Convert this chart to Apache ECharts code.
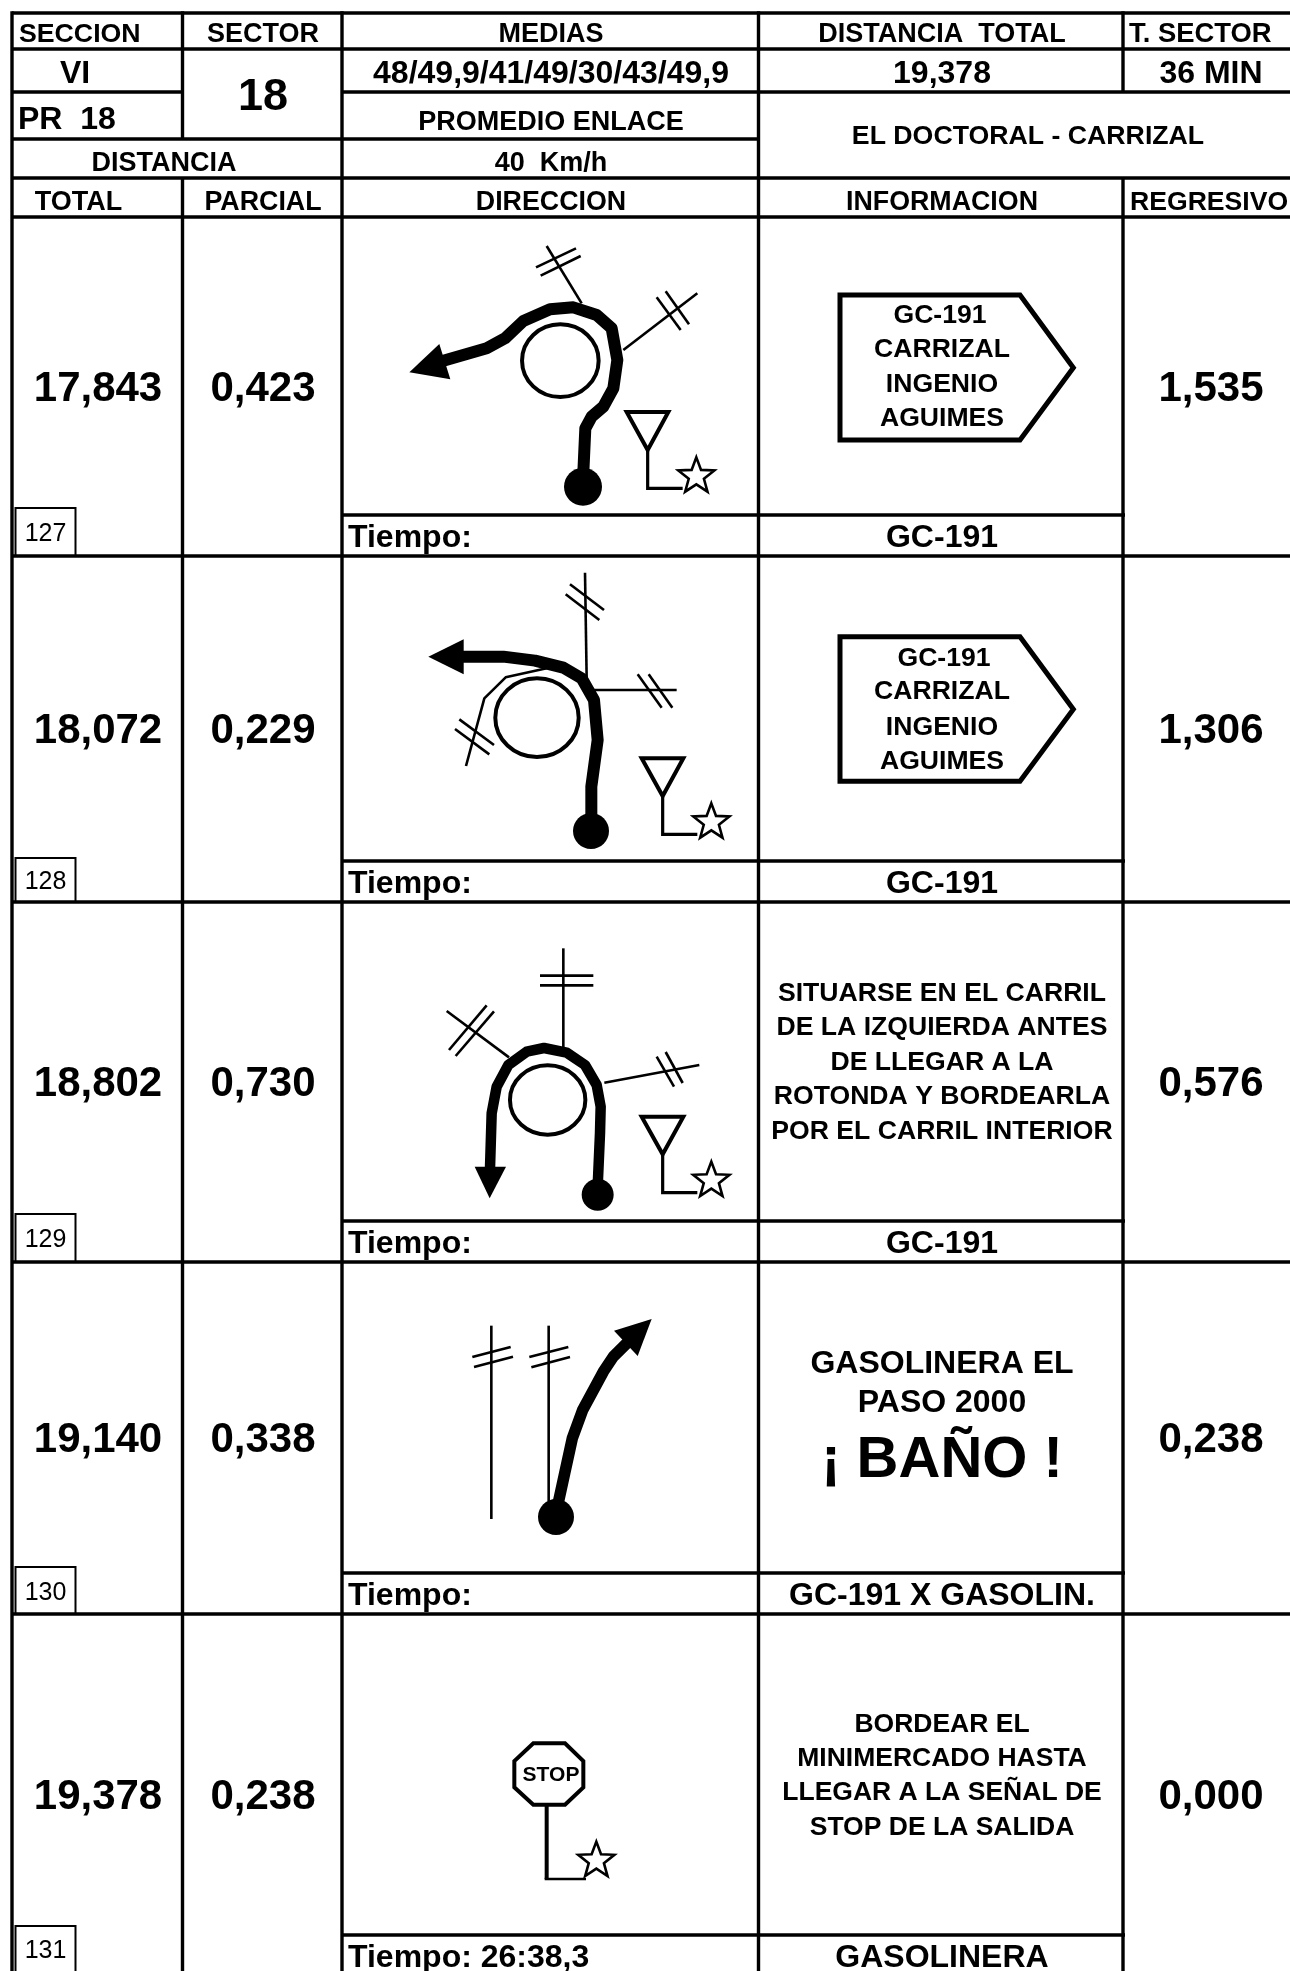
<!DOCTYPE html>
<html>
<head>
<meta charset="utf-8">
<title>PR 18</title>
<style>
  html, body { margin: 0; padding: 0; background: #fff; }
  #chart { width: 1290px; height: 1971px; }
</style>
<script src="https://cdn.jsdelivr.net/npm/echarts@6/dist/echarts.min.js"></script>
</head>
<body>
<div id="chart"></div>
<script>
// table contents
const notes = ['127', '128', '129', '130', '131'];
const totals = ['17,843', '18,072', '18,802', '19,140', '19,378'];
const partials = ['0,423', '0,229', '0,730', '0,338', '0,238'];
const remaining = ['1,535', '1,306', '0,576', '0,238', '0,000'];
const times = ['Tiempo:', 'Tiempo:', 'Tiempo:', 'Tiempo:', 'Tiempo: 26:38,3'];
const roads = ['GC-191', 'GC-191', 'GC-191', 'GC-191 X GASOLIN.', 'GASOLINERA'];
const signLines = ['GC-191', 'CARRIZAL', 'INGENIO', 'AGUIMES'];
const keepLeftLines = ['SITUARSE EN EL CARRIL', 'DE LA IZQUIERDA ANTES', 'DE LLEGAR A LA', 'ROTONDA Y BORDEARLA', 'POR EL CARRIL INTERIOR'];
const stationLines = ['GASOLINERA EL', 'PASO 2000'];
const stationBig = '¡ BAÑO !';
const stopLines = ['BORDEAR EL', 'MINIMERCADO HASTA', 'LLEGAR A LA SEÑAL DE', 'STOP DE LA SALIDA'];

// layout of the table, in page units
const colX = [12, 182.5, 342, 758.5, 1123];
const headY = [13, 49, 92, 139, 178, 217];
const rowBottom = [556, 902, 1262, 1614, 1971];
const timeLineY = [515, 861, 1221, 1573, 1935];
const noteTop = [508, 858, 1214, 1567, 1926];
const rowMiddle = [387, 729, 1082, 1438, 1795];
const RIGHT = 1290;

const items = [];
const FONT = '"Liberation Sans", Arial, sans-serif';
const TEXT_DROP = 2.5; // the font's middle sits a bit high against the picture

function text(str, x, y, size, align, bold) {
  items.push({ kind: 'text', str, x, y: y + TEXT_DROP, size, align: align || 'center', bold: bold !== false });
}
function stroke(pts, w, opt) {
  items.push(Object.assign({ kind: 'stroke', pts, w }, opt));
}
function polygon(pts, fill, w) {
  items.push({ kind: 'polygon', pts, fill, w: w || 0 });
}
function oval(cx, cy, rx, ry, w, fill) {
  items.push({ kind: 'oval', cx, cy, rx, ry, w, fill });
}
// diagram points are measured on 3x crops of the picture
const crop = (ox, oy, pts) => pts.map(p => [ox + p[0] / 3, oy + p[1] / 3]);

function star(ox, oy, cx, cy, R) {
  const pts = [];
  for (let i = 0; i < 10; i++) {
    const r = i % 2 ? R * 0.42 : R;
    const a = -Math.PI / 2 + i * Math.PI / 5;
    pts.push([cx + r * Math.cos(a), cy + r * Math.sin(a)]);
  }
  polygon(crop(ox, oy, pts), '#fff', 2.6);
}
function tv(ox, oy, sign, post) {
  polygon(crop(ox, oy, sign), '#fff', 4);
  stroke(crop(ox, oy, post), 3.2, { join: 'miter' });
}
function thin(ox, oy, list) {
  list.forEach(l => stroke(crop(ox, oy, l), 2.6, { cap: 'butt' }));
}
function way(ox, oy, pts, w, dot, head) {
  stroke(crop(ox, oy, pts), w, { cap: 'round' });
  oval(ox + dot[0] / 3, oy + dot[1] / 3, dot[2] / 3, dot[2] / 3, 0, '#000');
  if (head) polygon(crop(ox, oy, head), '#000');
}

// --- grid rules
const hRule = (y, a, b) => stroke([[a, y], [b, y]], 3.4, { cap: 'butt' });
const vRule = (x, a, b) => stroke([[x, a], [x, b]], 3.4, { cap: 'butt' });
const tableTop = headY[0] - 1.7;
vRule(colX[0], tableTop, 1971);
vRule(colX[1], tableTop, headY[3]);
vRule(colX[1], headY[4], 1971);
vRule(colX[2], tableTop, 1971);
vRule(colX[3], tableTop, 1971);
vRule(colX[4], tableTop, headY[2]);
vRule(colX[4], headY[4], 1971);
hRule(headY[0], colX[0], RIGHT);
hRule(headY[1], colX[0], RIGHT);
hRule(headY[2], colX[0], colX[1]);
hRule(headY[2], colX[2], RIGHT);
hRule(headY[3], colX[0], colX[3]);
hRule(headY[4], colX[0], RIGHT);
hRule(headY[5], colX[0], RIGHT);
rowBottom.slice(0, 4).forEach(y => hRule(y, colX[0], RIGHT));
timeLineY.forEach(y => hRule(y, colX[2], 1125));

// --- header
text('SECCION', 19, 32, 26.7, 'left');
text('SECTOR', 263, 32, 27);
text('MEDIAS', 551, 32, 27);
text('DISTANCIA  TOTAL', 942, 32, 27);
text('T. SECTOR', 1129, 32, 27.4, 'left');
text('VI', 75, 72, 32);
text('18', 263, 95.5, 45);
text('48/49,9/41/49/30/43/49,9', 551, 72, 32);
text('19,378', 942, 72, 32);
text('36 MIN', 1211, 72, 32);
text('PR  18', 18, 117.5, 32, 'left');
text('PROMEDIO ENLACE', 551, 120, 27);
text('EL DOCTORAL - CARRIZAL', 1028, 134, 26.7);
text('DISTANCIA', 164, 161, 27);
text('40  Km/h', 551, 161, 27);
text('TOTAL', 78.5, 200, 27);
text('PARCIAL', 263, 200, 26.8);
text('DIRECCION', 551, 200, 26.8);
text('INFORMACION', 942, 200, 26.8);
text('REGRESIVO', 1130, 200, 26.6, 'left');

// --- rows
notes.forEach((n, i) => {
  const boxTop = noteTop[i];
  const boxBottom = rowBottom[i];
  stroke([[15.5, boxTop], [75.5, boxTop], [75.5, boxBottom]], 2, { join: 'miter', cap: 'butt' });
  stroke([[15.5, boxTop - 1], [15.5, boxBottom]], 2, { cap: 'butt' });
  text(n, 45.5, (boxTop + Math.min(boxBottom, boxTop + 48)) / 2, 25, 'center', false);
  text(totals[i], 98, rowMiddle[i], 42);
  text(partials[i], 263, rowMiddle[i], 42);
  text(remaining[i], 1211, rowMiddle[i], 42);
  const midT = timeLineY[i] + 21;
  text(times[i], 348, midT, 32, 'left');
  text(roads[i], 942, midT, 32);
});

// --- information cells
polygon(crop(820, 280, [[60, 45], [600, 45], [760, 263], [600, 480], [60, 480]]), '#fff', 5);
[[940, 313], [942, 347], [942, 382], [942, 416]].forEach((p, i) => text(signLines[i], p[0], p[1], 26.6));
polygon(crop(820, 620, [[60, 50], [600, 50], [760, 268], [600, 484], [60, 484]]), '#fff', 5);
[[944, 656], [942, 689], [942, 725], [942, 759]].forEach((p, i) => text(signLines[i], p[0], p[1], 26.6));
[991, 1025, 1060, 1094, 1129].forEach((y, i) => text(keepLeftLines[i], 942, y, 26.6));
[1362, 1401].forEach((y, i) => text(stationLines[i], 942, y, 32));
text(stationBig, 942, 1458, 58);
[1722, 1756, 1790, 1825].forEach((y, i) => text(stopLines[i], 942, y, 26.5));

// --- diagram 127
oval(340 + 661 / 3, 220 + 422 / 3, 38.3, 36.3, 4);
thin(340, 220, [
  [[620, 78], [725, 250]], [[588, 142], [708, 85]], [[602, 167], [722, 108]],
  [[850, 390], [1072, 220]], [[950, 232], [1022, 330]], [[977, 214], [1047, 313]]
]);
way(340, 220,
  [[729, 780], [736, 625], [755, 590], [790, 560], [820, 505], [832, 420], [815, 325], [770, 285], [700, 262], [630, 268], [550, 303], [495, 355], [440, 385], [310, 422]],
  12, [729, 800, 57], [[208, 457], [298, 372], [331, 478]]);
tv(340, 220, [[860, 576], [985, 576], [923, 690]], [[923, 692], [923, 805], [1028, 805]]);
star(340, 220, 1069, 769, 57);

// --- diagram 128
oval(340 + 591 / 3, 555 + 488 / 3, 41.7, 39.3, 4);
thin(340, 555, [
  [[735, 53], [740, 370]], [[690, 88], [792, 165]], [[677, 118], [778, 195]],
  [[760, 405], [1010, 405]], [[893, 358], [965, 458]], [[926, 358], [997, 458]],
  [[378, 633], [433, 430], [497, 367], [620, 340]], [[358, 493], [462, 570]], [[345, 522], [448, 598]]
]);
way(340, 555,
  [[754, 790], [754, 695], [773, 555], [762, 435], [725, 370], [670, 338], [585, 317], [490, 305], [370, 305]],
  12, [753, 828, 54], [[265, 305], [371, 253], [371, 358]]);
tv(340, 555, [[905, 610], [1030, 610], [968, 723]], [[968, 725], [968, 838], [1072, 838]]);
star(340, 555, 1114, 802, 57);

// --- diagram 129
oval(340 + 623 / 3, 900 + 600 / 3, 37.7, 34.7, 4);
thin(340, 900, [
  [[670, 145], [670, 445]], [[600, 227], [760, 227]], [[600, 256], [760, 256]],
  [[320, 333], [507, 472]], [[440, 316], [327, 450]], [[462, 334], [347, 468]],
  [[793, 548], [1078, 495]], [[950, 470], [1002, 560]], [[977, 456], [1028, 549]]
]);
way(340, 900,
  [[773, 860], [780, 700], [782, 620], [770, 555], [735, 495], [680, 458], [612, 444], [560, 455], [505, 495], [470, 560], [455, 640], [450, 805]],
  10.5, [773, 884, 48], [[404, 800], [498, 800], [449, 895]]);
tv(340, 900, [[905, 650], [1030, 650], [968, 763]], [[968, 765], [968, 878], [1072, 878]]);
star(340, 900, 1114, 842, 57);

// --- diagram 130
thin(340, 1260, [
  [[454, 197], [454, 777]], [[397, 291], [512, 261]], [[402, 321], [519, 290]],
  [[626, 197], [626, 725]], [[568, 291], [685, 261]], [[574, 322], [690, 291]]
]);
way(340, 1260,
  [[650, 750], [697, 535], [728, 450], [790, 335], [820, 290], [860, 250]],
  11.5, [648, 771, 54], [[935, 177], [822, 212], [893, 288]]);

// --- diagram 131
polygon(crop(340, 1660, [[580, 250], [675, 250], [730, 303], [730, 382], [675, 434], [580, 434], [523, 382], [523, 303]]), '#fff', 4);
text('STOP', 340 + 633 / 3, 1660 + 344 / 3 - 1.5, 21);
stroke(crop(340, 1660, [[620, 438], [620, 657]]), 4, { cap: 'butt' });
stroke(crop(340, 1660, [[614, 657], [738, 657]]), 2.6, { cap: 'butt' });
star(340, 1660, 769, 602, 57);

function renderItem(params, api) {
  const it = items[api.value(0)];
  const map = pts => pts.map(p => api.coord(p));
  if (it.kind === 'text') {
    const c = api.coord([it.x, it.y]);
    return {
      type: 'text',
      style: {
        x: c[0], y: c[1], text: it.str, fill: '#000',
        font: (it.bold ? 'bold ' : '') + it.size + 'px ' + FONT,
        align: it.align, verticalAlign: 'middle'
      }
    };
  }
  if (it.kind === 'stroke') {
    return {
      type: 'polyline',
      shape: { points: map(it.pts) },
      style: { fill: null, stroke: '#000', lineWidth: it.w, lineJoin: it.join || 'round', lineCap: it.cap || 'butt' }
    };
  }
  if (it.kind === 'polygon') {
    return {
      type: 'polygon',
      shape: { points: map(it.pts) },
      style: { fill: it.fill, stroke: it.w ? '#000' : null, lineWidth: it.w, lineJoin: 'miter' }
    };
  }
  const c = api.coord([it.cx, it.cy]);
  return {
    type: 'ellipse',
    shape: { cx: c[0], cy: c[1], rx: it.rx, ry: it.ry },
    style: { fill: it.fill || null, stroke: it.w ? '#000' : null, lineWidth: it.w }
  };
}

const chart = echarts.init(document.getElementById('chart'), null, { renderer: 'canvas' });
chart.setOption({
  animation: false,
  backgroundColor: '#fff',
  grid: { left: 0, right: 0, top: 0, bottom: 0 },
  xAxis: { type: 'value', min: 0, max: 1290, show: false },
  yAxis: { type: 'value', min: 0, max: 1971, inverse: true, show: false },
  series: [{
    type: 'custom',
    coordinateSystem: 'cartesian2d',
    clip: false,
    silent: true,
    renderItem,
    data: items.map((_, i) => [i, 0]),
    encode: { x: 0, y: 1 }
  }]
});
</script>
</body>
</html>
